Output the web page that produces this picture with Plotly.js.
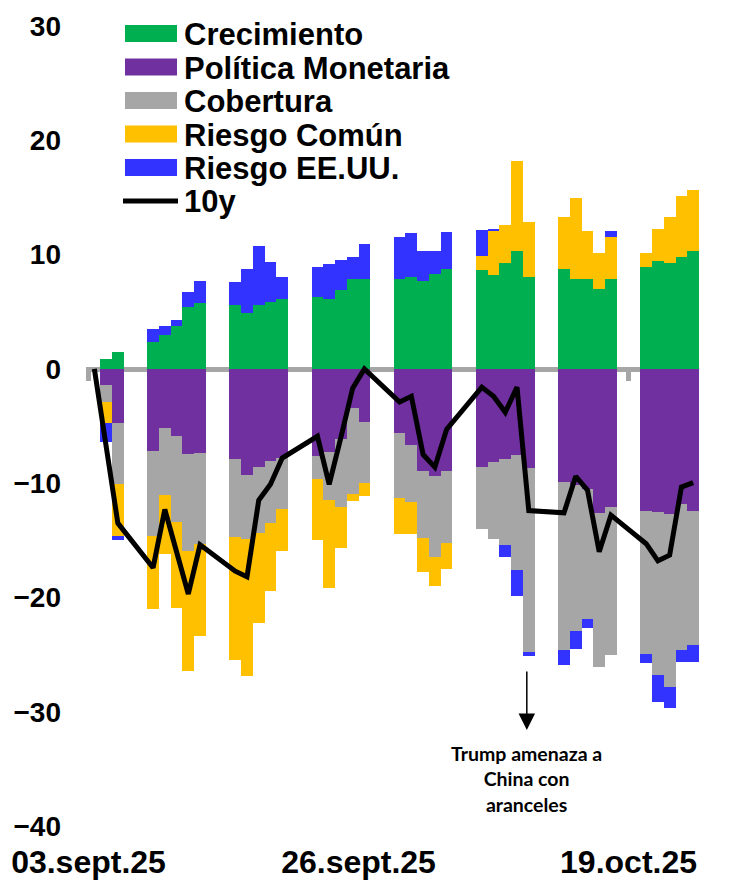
<!DOCTYPE html>
<html>
<head>
<meta charset="utf-8">
<script src="https://cdn.plot.ly/plotly-3.0.1.min.js"></script>
<style>html,body{margin:0;padding:0;background:#fff;}#chart{width:730px;height:886px;}</style>
</head>
<body>
<div id="chart"></div>
<script>
const dates = ['2025-09-03','2025-09-04','2025-09-05',
  '2025-09-08','2025-09-09','2025-09-10','2025-09-11','2025-09-12',
  '2025-09-15','2025-09-16','2025-09-17','2025-09-18','2025-09-19',
  '2025-09-22','2025-09-23','2025-09-24','2025-09-25','2025-09-26',
  '2025-09-29','2025-09-30','2025-10-01','2025-10-02','2025-10-03',
  '2025-10-06','2025-10-07','2025-10-08','2025-10-09','2025-10-10',
  '2025-10-13','2025-10-14','2025-10-15','2025-10-16','2025-10-17',
  '2025-10-20','2025-10-21','2025-10-22','2025-10-23','2025-10-24'];

const crecimiento = [0,0.85,1.5,
  2.33,2.97,3.76,5.45,5.8,
  5.57,4.87,5.57,5.83,6.1,
  6.27,6.12,6.94,7.85,7.85,
  7.9,8.05,7.67,8.28,8.72,
  8.66,8.22,9.3,10.27,8.0,
  8.75,7.87,7.87,6.97,7.87,
  8.87,9.48,9.22,9.8,10.27];

const politicaMonetaria = [0,-1.4,-4.7,
  -7.15,-5.2,-5.86,-7.44,-7.38,
  -7.9,-9.27,-8.55,-8.1,-7.8,
  -7.6,-7.3,-6.1,-3.44,-4.66,
  -5.63,-6.68,-8.98,-9.36,-8.92,
  -8.6,-8.17,-7.9,-7.52,-8.69,
  -9.86,-10.15,-10.5,-12.57,-12.1,
  -12.42,-12.5,-12.7,-11.8,-12.48];

const cobertura = [0,-1.5,-5.4,
  -7.45,-5.8,-7.55,-8.54,-7.93,
  -6.8,-5.6,-5.83,-5.4,-4.45,
  -2.05,-4.2,-6.0,-7.52,-5.34,
  -5.63,-4.98,-5.78,-7.11,-6.3,
  -5.4,-6.73,-7.5,-10.06,-16.1,
  -14.7,-12.8,-11.4,-13.5,-12.9,
  -12.5,-14.3,-15.15,-12.8,-11.67];

const riesgoComun = [0,-1.8,-4.55,
  -6.4,-5.2,-7.55,-10.5,-8.05,
  -10.75,-12.0,-7.9,-5.95,-3.67,
  -5.3,-7.7,-3.55,-0.56,-1.1,
  -3.2,-2.75,-3.03,-2.51,-2.3,
  1.23,3.85,3.33,7.9,4.81,
  4.52,7.11,4.2,3.15,3.65,
  1.25,2.74,4.08,5.33,5.34];

const riesgoEEUU = [0,-1.7,-0.35,
  1.19,0.82,0.52,1.31,1.92,
  2.01,3.85,5.15,3.56,1.9,
  2.62,3.06,2.59,1.98,3.06,
  3.62,3.8,2.6,2.07,3.24,
  2.27,0.2,-1.02,-2.27,-0.35,
  -1.37,-1.55,-0.8,0,0.58,
  -0.82,-2.33,-1.84,-1.02,-1.51];

const y10 = [0,-6.8,-13.5,
  -17.4,-12.3,-16.0,-19.7,-15.4,
  -17.7,-18.2,-11.5,-10.1,-7.8,
  -5.9,-10.1,-6.0,-1.7,0.0,
  -2.9,-2.4,-7.5,-8.6,-5.3,
  -1.6,-2.4,-3.8,-1.6,-12.4,
  -12.6,-9.4,-10.6,-16.0,-12.8,
  -15.3,-16.8,-16.3,-10.35,-9.95];

const tickDates = ['2025-09-03','2025-09-26','2025-10-19'];
const tickLabels = ['03.sept.25','26.sept.25','19.oct.25'];

const seriesNames = ['Crecimiento','Política Monetaria','Cobertura','Riesgo Común','Riesgo EE.UU.'];
const seriesValues = [crecimiento, politicaMonetaria, cobertura, riesgoComun, riesgoEEUU];
const seriesColors = ['#00B050','#7030A0','#A6A6A6','#FFC000','#3333FF'];
const lineName = '10y';

const DAY = 86400000;
const traces = seriesNames.map((n,i)=>({
  type:'bar', name:n, x:dates, y:seriesValues[i],
  xperiod:DAY, xperiodalignment:'middle',
  marker:{color:seriesColors[i], line:{width:0}},
  showlegend:false, hoverinfo:'skip'
}));
traces.push({
  type:'scatter', mode:'lines', name:lineName, x:dates, y:y10,
  xperiod:DAY, xperiodalignment:'middle', xaxis:'x2',
  line:{color:'#000000', width:5}, showlegend:false, hoverinfo:'skip'
});

// custom legend (paper coords computed from pixel layout)
const L = 86, PW = 613, T = 26, PH = 800;
const px = v => (v - L) / PW;
const py = v => (T + PH - v) / PH;
const rowsY = [33.5, 67, 100.5, 134, 167.5, 201];
const shapes = [];
const annotations = [];
const legendNames = seriesNames.concat([lineName]);
legendNames.forEach((n,i)=>{
  const c = rowsY[i];
  if (i < 5) {
    shapes.push({type:'rect', xref:'paper', yref:'paper', x0:px(125), x1:px(177), y0:py(c+8.5), y1:py(c-8.5),
      fillcolor:seriesColors[i], line:{width:0}});
  } else {
    shapes.push({type:'line', xref:'paper', yref:'paper', x0:px(123), x1:px(178), y0:py(c), y1:py(c),
      line:{color:'#000000', width:5}});
  }
  annotations.push({xref:'paper', yref:'paper', x:px(182), y:py(c+1), xanchor:'left', yanchor:'middle',
    text:n, showarrow:false, font:{family:'Liberation Sans, Arial, sans-serif', size:31, color:'#000', weight:'bold'}});
});

annotations.push({x:'2025-10-10 08:00', y:-31.6, xref:'x', yref:'y', ax:0, ay:-60, axref:'pixel', ayref:'pixel',
  showarrow:true, arrowhead:2, arrowsize:2.2, arrowwidth:1.5, arrowcolor:'#000', text:''});
annotations.push({x:'2025-10-10 08:00', y:-35.9, xref:'x', yref:'y', xanchor:'center', yanchor:'middle', showarrow:false,
  text:'<b>Trump amenaza a</b><br><b>China con</b><br><b>aranceles</b>', align:'center',
  font:{family:'Lato, "Open Sans", sans-serif', size:19.5, color:'#000', weight:'bold'}});

const layout = {
  width:730, height:886,
  margin:{l:L, r:730-L-PW, t:T, b:886-T-PH, pad:0},
  paper_bgcolor:'#fff', plot_bgcolor:'#fff',
  barmode:'relative', bargap:0,
  showlegend:false,
  xaxis:{type:'date', range:['2025-09-02 18:53','2025-10-25 00:00'], tickvals:tickDates, ticktext:tickLabels,
    ticks:'', showgrid:false, showline:false, zeroline:false, ticklabelstandoff:14,
    tickfont:{family:'Liberation Sans, Arial, sans-serif', size:32, color:'#000', weight:'bold'}},
  xaxis2:{type:'date', matches:'x', overlaying:'x', anchor:'free', position:40/70, side:'bottom',
    showline:true, linecolor:'#A6A6A6', linewidth:5, ticks:'outside', ticklen:9, tickwidth:5, tickcolor:'#A6A6A6',
    tickvals:[tickDates[0], tickDates[2]], showticklabels:false, showgrid:false, zeroline:false, layer:'below traces'},
  yaxis:{range:[-40,30], tickvals:[-40,-30,-20,-10,0,10,20,30], ticks:'', showgrid:false, zeroline:false, showline:false,
    ticklabelstandoff:24,
    tickfont:{family:'Liberation Sans, Arial, sans-serif', size:28, color:'#000', weight:'bold'}},
  shapes:shapes, annotations:annotations
};

Plotly.newPlot('chart', traces, layout, {staticPlot:true, displayModeBar:false});
</script>
</body>
</html>
